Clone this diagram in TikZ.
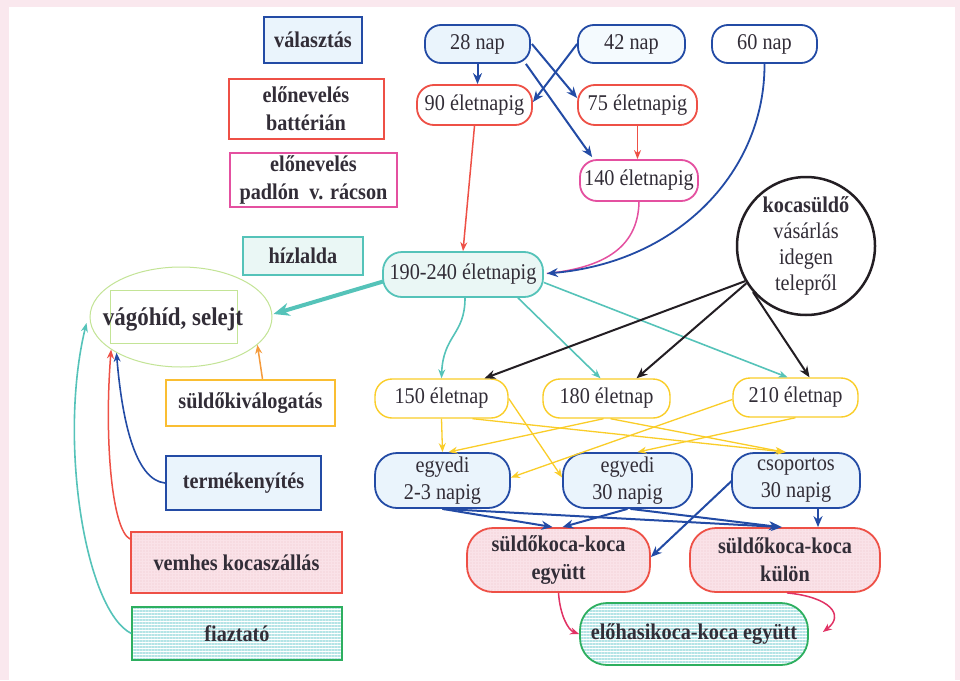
\documentclass[tikz,border=0pt]{standalone}
\usepackage{fontspec}
\setmainfont{Liberation Serif}[FakeStretch=0.9]
\usetikzlibrary{arrows.meta,calc,shapes.geometric,patterns,patterns.meta}
\definecolor{cblue}{RGB}{35,75,165}
\definecolor{cred}{RGB}{238,80,70}
\definecolor{cpink}{RGB}{228,80,160}
\definecolor{cmag}{RGB}{225,50,100}
\definecolor{cteal}{RGB}{85,195,185}
\definecolor{cyellow}{RGB}{250,205,40}
\definecolor{cyorange}{RGB}{250,190,50}
\definecolor{corange}{RGB}{245,155,60}
\definecolor{cgreen}{RGB}{45,175,95}
\definecolor{clgreen}{RGB}{195,228,150}
\definecolor{fblue}{RGB}{234,244,252}
\definecolor{fteal}{RGB}{234,247,245}
\definecolor{fpink}{RGB}{250,226,232}
\definecolor{fpinkdot}{RGB}{238,196,206}
\definecolor{cstripe}{RGB}{180,228,230}
\definecolor{bgpink}{RGB}{250,232,238}
\definecolor{txt}{RGB}{50,45,55}
\definecolor{cblack}{RGB}{35,30,35}
\newcommand\fsr{\fontsize{22.5}{27}\selectfont}
\newcommand\fsb{\fontsize{22.5}{28}\selectfont\bfseries}
\begin{document}
\begin{tikzpicture}[x=1pt,y=-1pt,
  lbox/.style={draw, rectangle, line width=2pt, font=\fsb, text=txt, align=center, inner sep=0pt},
  pill/.style={draw, rectangle, line width=1.8pt, font=\fsr, text=txt, align=center, inner sep=0pt},
  tip/.style={-{Stealth[length=11pt,width=9pt]}},
  smalltip/.style={-{Stealth[length=9pt,width=7pt]}},
  stripefill/.style={preaction={fill=white}, pattern={Lines[distance=3pt,line width=1.4pt,angle=0]}, pattern color=cstripe},
  dotfill/.style={preaction={fill=fpink}, pattern={Dots[distance=3pt,radius=.6pt]}, pattern color=fpinkdot},
  bluearr/.style={tip, draw=cblue, line width=2pt},
  blackarr/.style={tip, draw=cblack, line width=2pt},
  tealarr/.style={smalltip, draw=cteal, line width=1.6pt},
  yelarr/.style={smalltip, draw=cyellow, line width=1.3pt},
  redarr/.style={smalltip, draw=cred, line width=1.5pt},
  magarr/.style={smalltip, draw=cmag, line width=1.5pt}
]
\useasboundingbox (0,0) rectangle (960,680);
\fill[bgpink] (0,0) rectangle (960,680);
\fill[white] (9,7) rectangle (955,680);

% legend boxes
\node[lbox, draw=cblue, fill=fblue, minimum width=98pt, minimum height=46pt] (valasztas) at (313,40) {választás};
\node[lbox, draw=cred, fill=white, minimum width=155pt, minimum height=60pt] (batt) at (306,109) {előnevelés\\battérián};
\node[lbox, draw=cpink, fill=white, minimum width=167pt, minimum height=54pt] (padlon) at (313.5,180) {előnevelés\\padlón~ v. rácson};
\node[lbox, draw=cteal, fill=fteal, minimum width=120pt, minimum height=38pt] (hizlalda) at (303,256) {hízlalda};
\node[lbox, draw=cyorange, fill=white, minimum width=169pt, minimum height=46pt] (suldoki) at (250.5,403) {süldőkiválogatás};
\node[lbox, draw=cblue, fill=fblue, minimum width=155pt, minimum height=54pt] (termek) at (243.5,483) {termékenyítés};
\node[lbox, draw=cred, dotfill, minimum width=211pt, minimum height=61pt] (vemhes) at (236.5,562.5) {vemhes kocaszállás};
\node[lbox, draw=cgreen, stripefill, minimum width=210pt, minimum height=53pt] (fiaz) at (237,633.5) {fiaztató};

% slaughterhouse
\node[ellipse, draw=clgreen, line width=1pt, minimum width=182pt, minimum height=100pt, inner sep=0pt] (vag) at (181,317) {};
\node[draw=clgreen, line width=.8pt, minimum width=127pt, minimum height=53pt, inner sep=0pt] (vagbox) at (173.5,316.5) {};
\node[font=\fontsize{25.5}{30}\selectfont\bfseries, text=txt, inner sep=0pt] (vagtxt) at (173,319) {vágóhíd, selejt};

% top pills
\node[pill, draw=cblue, fill=fblue, rounded corners=16pt, minimum width=105pt, minimum height=38pt] (n28) at (477.5,44) {28 nap};
\node[pill, draw=cblue, fill=fblue!50!white, rounded corners=16pt, minimum width=107pt, minimum height=38pt] (n42) at (631.5,44) {42 nap};
\node[pill, draw=cblue, fill=white, rounded corners=16pt, minimum width=105pt, minimum height=38pt] (n60) at (764.5,44) {60 nap};
\node[pill, draw=cred, fill=white, rounded corners=17pt, minimum width=115pt, minimum height=40pt] (e90) at (474.5,105) {90 életnapig};
\node[pill, draw=cred, fill=white, rounded corners=17pt, minimum width=119pt, minimum height=40pt] (e75) at (637.5,105) {75 életnapig};
\node[pill, draw=cpink, fill=white, rounded corners=17pt, minimum width=118pt, minimum height=41pt] (e140) at (639,180.5) {140 életnapig};
\node[pill, draw=cteal, fill=fteal, rounded corners=19pt, minimum width=160pt, minimum height=45pt] (e190) at (463,274.5) {190-240 életnapig};

% circle
\node[circle, draw=cblack, line width=2.5pt, minimum size=138pt, inner sep=0pt, align=center, text=txt, font=\fontsize{22.5}{26}\selectfont] (koca) at (806,246) {{\bfseries kocasüldő}\\vásárlás\\idegen\\telepről};

% middle row
\node[pill, draw=cyellow, fill=white, line width=1.4pt, rounded corners=17pt, minimum width=133pt, minimum height=39pt] (d150) at (441.5,398.5) {150 életnap};
\node[pill, draw=cyellow, fill=white, line width=1.4pt, rounded corners=17pt, minimum width=127pt, minimum height=39pt] (d180) at (606.5,398.5) {180 életnap};
\node[pill, draw=cyellow, fill=white, line width=1.4pt, rounded corners=17pt, minimum width=125pt, minimum height=39pt] (d210) at (795.5,397.5) {210 életnap};

\node[pill, draw=cblue, fill=fblue, rounded corners=22pt, minimum width=135pt, minimum height=55pt] (eg23) at (442.5,480.5) {egyedi\\2-3 napig};
\node[pill, draw=cblue, fill=fblue, rounded corners=22pt, minimum width=129pt, minimum height=55pt] (eg30) at (627.5,480.5) {egyedi\\30 napig};
\node[pill, draw=cblue, fill=fblue, rounded corners=22pt, minimum width=128pt, minimum height=55pt] (csop) at (796,480.5) {csoportos\\30 napig};

\node[pill, draw=cred, dotfill, font=\fsb, rounded corners=26pt, minimum width=183pt, minimum height=64pt] (skegy) at (558.5,560) {süldőkoca-koca\\együtt};
\node[pill, draw=cred, dotfill, font=\fsb, rounded corners=26pt, minimum width=190pt, minimum height=64pt] (skkul) at (785,560) {süldőkoca-koca\\külön};
\node[pill, draw=cgreen, stripefill, font=\fsb, rounded corners=27pt, minimum width=228pt, minimum height=62pt] (eloh) at (694,634) {előhasikoca-koca együtt};

% top connectors
\draw[bluearr] (n28.south) -- (n28.south |- e90.north);
\draw[bluearr] ($(n28.east)+(1,0)$) -- ($(e75.west)+(0,-7)$);
\draw[bluearr] ($(n28.south east)+(-5,0)$) -- ($(e140.north west)+(13,-2)$);
\draw[bluearr] (n42.west) -- ($(e90.east)+(0,-3)$);
\draw[redarr] (e75.south) -- (e75.south |- e140.north);
\draw[redarr] (e90.south) -- (e190.north);
\draw[draw=cpink, line width=1.5pt] (e140.south) .. controls (638,250) and (600,268) .. ($(e190.east)+(3,-1)$);
\draw[bluearr, line width=1.8pt] (n60.south) .. controls (765,170) and (680,262) .. ($(e190.east)+(3,-1)$);

% to slaughterhouse
\draw[draw=cteal, line width=4pt, -{Stealth[length=16pt,width=13pt]}] ($(e190.west)+(1,7)$) -- ($(vag.east)+(1,-3)$);
\draw[draw=corange, line width=1.5pt, smalltip] ($(suldoki.north)+(12,0)$) -- (vag.-20);
\draw[draw=cblue, line width=1.6pt, smalltip] (termek.west) .. controls (135,480) and (122,420) .. (vag.209);
\draw[redarr] ($(vemhes.north west)+(0,8)$) .. controls (112,530) and (104,440) .. (vag.205);
\draw[tealarr] (fiaz.west) .. controls (85,610) and (58,440) .. ($(vag.west)+(-3,6)$);

% from 190-240
\draw[tealarr] ($(e190.south)+(2,0)$) .. controls (465,335) and (443,335) .. (d150.north);
\draw[tealarr] ($(e190.south)+(55,0)$) -- ($(d180.north)+(-6,0)$);
\draw[tealarr] ($(e190.east)+(0,8)$) -- ($(d210.north)+(-8,0)$);

% from circle
\draw[blackarr] (koca.210) -- ($(d150.north)+(43,0)$);
\draw[blackarr] (koca.212) -- ($(d180.north)+(30,0)$);
\draw[blackarr] (koca.221) -- ($(d210.north)+(14,0)$);

% yellow
\draw[yelarr] (d150.south) -- (eg23.north);
\draw[yelarr] (d150.east) -- ($(eg30.west)+(0,-3)$);
\draw[yelarr] ($(d150.south)+(31,0)$) -- ($(csop.north)+(-10,0)$);
\draw[yelarr] ($(d180.south)+(-3,0)$) -- ($(eg23.north)+(6,0)$);
\draw[yelarr] ($(d180.south)+(4,0)$) -- ($(csop.north)+(-12,0)$);
\draw[yelarr] ($(d210.west)+(0,2)$) -- ($(eg23.east)+(0,-3)$);
\draw[yelarr] (d210.south) -- ($(eg30.north)+(10,0)$);

% blue bottom
\draw[bluearr] (eg23.south) -- ($(skegy.north)+(-6,0)$);
\draw[bluearr] (eg23.south) -- ($(skkul.north)+(-3,0)$);
\draw[bluearr] (eg30.south) -- ($(skegy.north)+(4,0)$);
\draw[bluearr] ($(eg30.south)+(3,0)$) -- ($(skkul.north)+(-5,0)$);
\draw[bluearr] ($(csop.west)+(1,0)$) -- ($(skegy.east)+(0,-3)$);
\draw[bluearr] ($(csop.south)+(22,0)$) -- ($(skkul.north)+(33,0)$);

% magenta bottom
\draw[magarr] (skegy.south) .. controls (560,615) and (568,630) .. (eloh.west);
\draw[magarr] ($(skkul.south)+(2,0)$) .. controls (830,597) and (845,615) .. ($(eloh.east)+(14,-2)$);
\end{tikzpicture}
\end{document}
